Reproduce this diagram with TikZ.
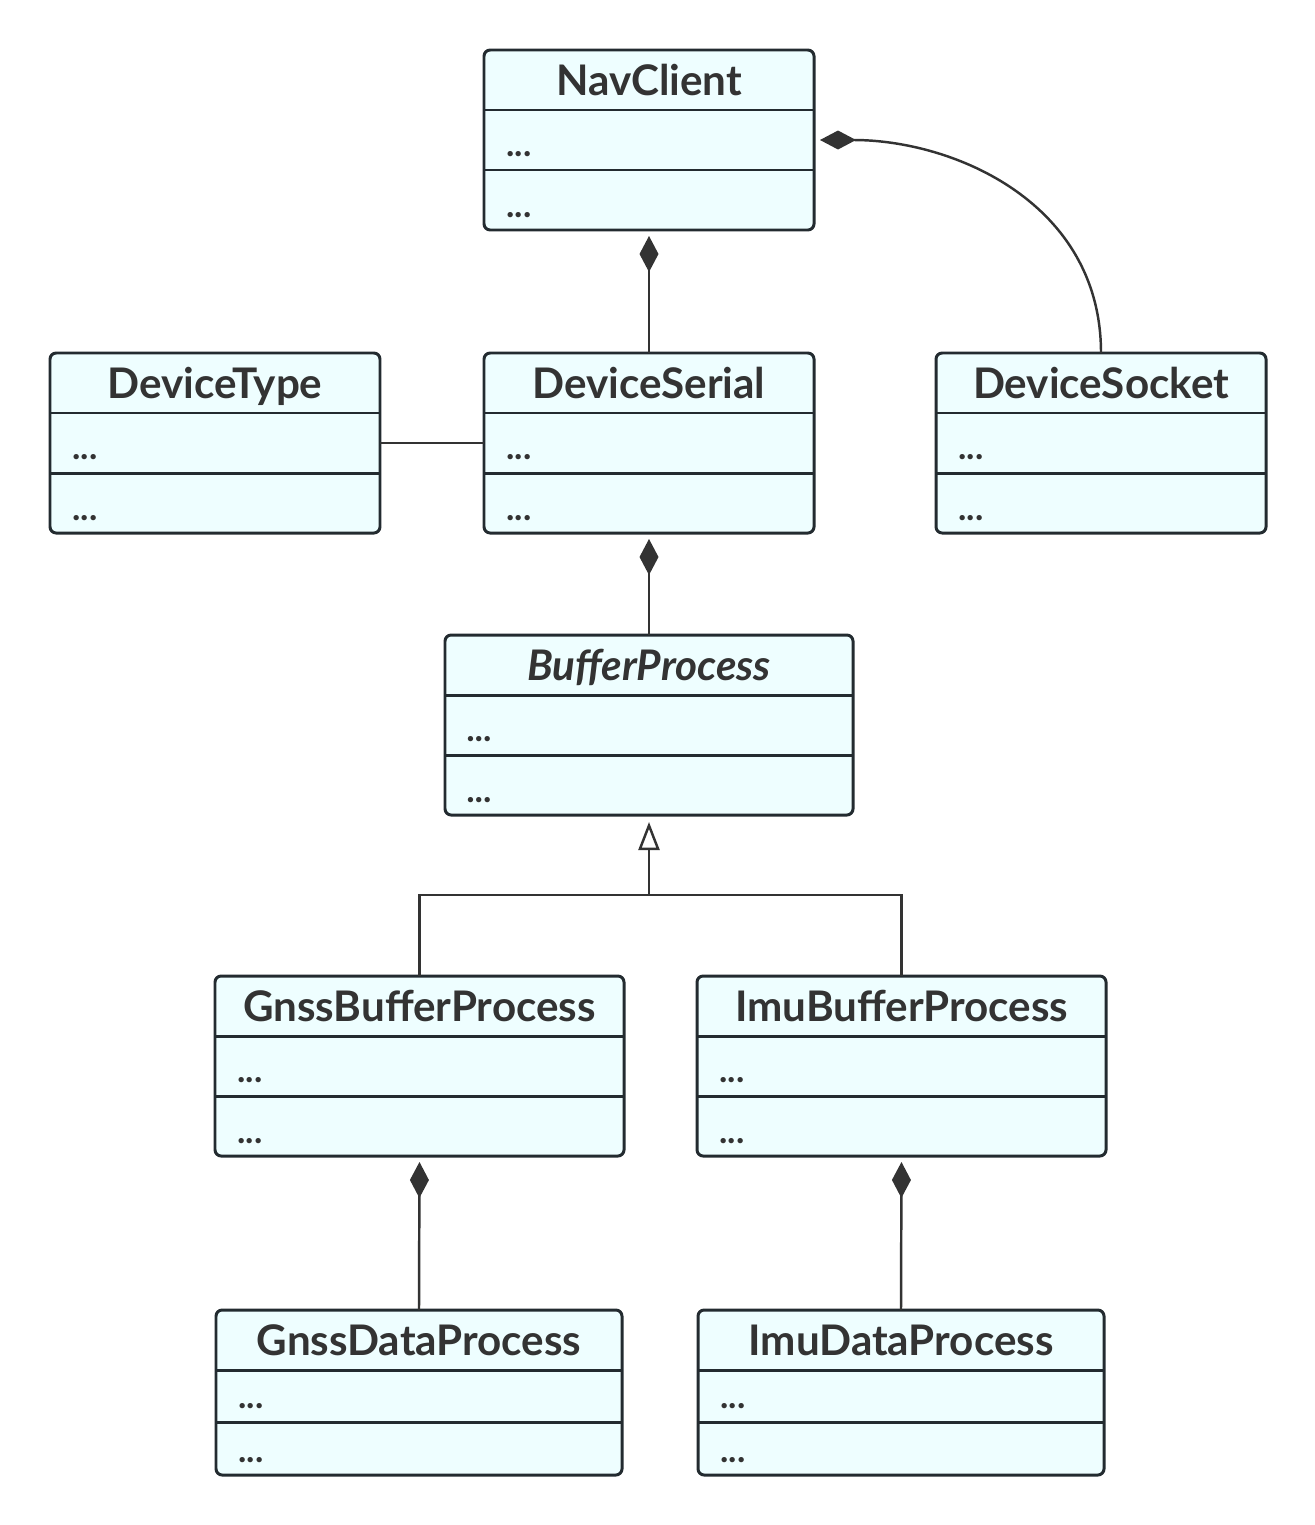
\documentclass[tikz,border=0pt]{standalone}
\usepackage{fontspec}
\setmainfont{Lato}
\usetikzlibrary{arrows.meta}
\definecolor{boxfill}{HTML}{EEFEFF}
\definecolor{boxline}{HTML}{232B30}
\definecolor{textgrey}{HTML}{333333}
\tikzset{
	umlbox/.style={draw=boxline, fill=boxfill, line width=1.7pt, rounded corners=3.5pt, inner sep=0pt, outer sep=0pt, anchor=north west},
	rule/.style={draw=boxline, line width=1.7pt},
	titletext/.style={text=textgrey, font=\fontsize{24}{29}\selectfont\bfseries, anchor=base, inner sep=0pt},
	dotstext/.style={text=textgrey, font=\fontsize{20}{24}\selectfont\bfseries, anchor=base west, inner sep=0pt},
	link/.style={draw=textgrey, line width=1.4pt},
	compose/.style={link, -{Diamond[length=0.72cm, width=0.38cm]}, shorten >=0.12cm},
	inherit/.style={link, -{Triangle[open, length=0.56cm, width=0.42cm, fill=white]}, shorten >=0.14cm}
}
\newcommand\umlclass[7][]{%
	\node[umlbox, minimum width=#5*0.02cm, minimum height=#6*0.02cm] (#2) at (#3,#4) {};
	\draw[rule] (#2.north west) ++(0,60) -- ++(#5,0);
	\draw[rule] (#2.north west) ++(0,#7) -- ++(#5,0);
	\path (#2.north) ++(0,45) node[titletext] (#2-title) {#1#2};
	\path (#2.north west) ++(22,#7-14) node[dotstext] (#2-attr) {#1...};
	\path (#2.north west) ++(22,#6-13) node[dotstext] (#2-ops) {#1...};
}
\begin{document}
\begin{tikzpicture}[x=0.02cm, y=-0.02cm]
	\useasboundingbox (0,0) rectangle (1315,1525);
	\umlclass{NavClient}{484}{50}{330}{180}{120}
	\umlclass{DeviceType}{50}{353}{330}{180}{120}
	\umlclass{DeviceSerial}{484}{353}{330}{180}{120}
	\umlclass{DeviceSocket}{936}{353}{330}{180}{120}
	\umlclass[\itshape]{BufferProcess}{445}{635}{408}{180}{120}
	\umlclass{GnssBufferProcess}{215}{976}{409}{180}{120}
	\umlclass{ImuBufferProcess}{697}{976}{409}{180}{120}
	\umlclass{GnssDataProcess}{216}{1310}{406}{165}{112}
	\umlclass{ImuDataProcess}{698}{1310}{406}{165}{112}
	\draw[compose] (DeviceSerial.north) -- (NavClient.south);
	\draw[compose] (DeviceSocket.north) .. controls +(0,-150) and +(140,0) .. (NavClient.east);
	\draw[link] (DeviceType.east) -- (DeviceSerial.west);
	\draw[compose] (BufferProcess.north) -- (DeviceSerial.south);
	\coordinate (fork) at (649,895);
	\draw[link] (GnssBufferProcess.north) |- (fork) -| (ImuBufferProcess.north);
	\draw[inherit] (fork) -- (BufferProcess.south);
	\draw[compose] (GnssDataProcess.north) -- (GnssBufferProcess.south);
	\draw[compose] (ImuDataProcess.north) -- (ImuBufferProcess.south);
\end{tikzpicture}
\end{document}
